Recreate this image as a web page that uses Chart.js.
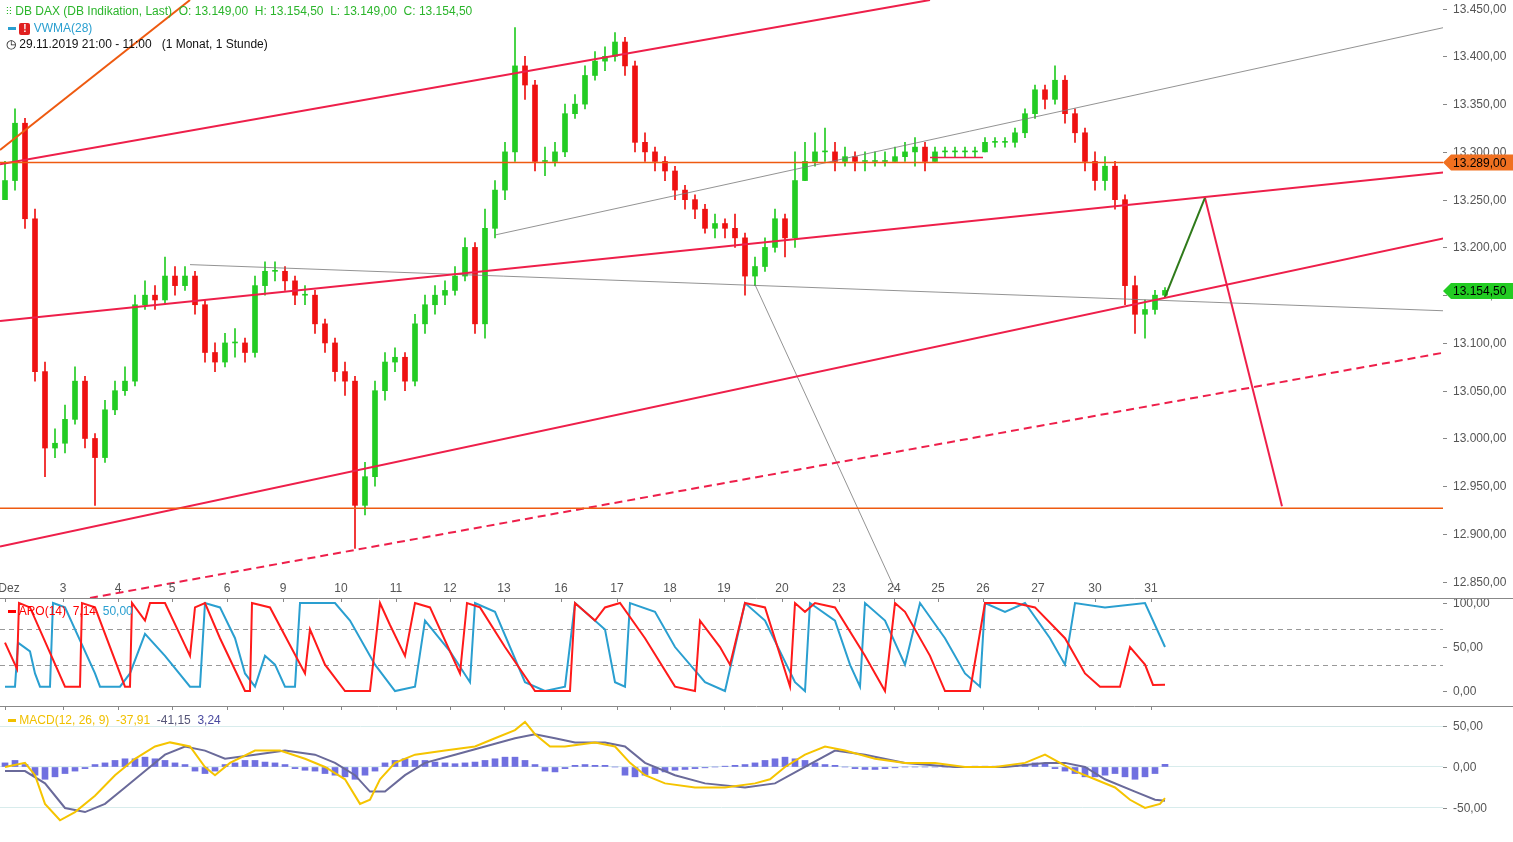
<!DOCTYPE html>
<html><head><meta charset="utf-8">
<script src="https://cdn.jsdelivr.net/npm/chart.js@4.4.0/dist/chart.umd.min.js"></script>
<style>
body{margin:0;width:1513px;height:842px;overflow:hidden;background:#fff;font-family:"Liberation Sans",Arial,sans-serif;position:relative}
.p{position:absolute;left:0;width:1513px}
.lg{position:absolute;font-size:12px;white-space:nowrap}
</style></head><body>
<div class="p" style="top:0;height:598px"><canvas id="c1"></canvas></div>
<div class="p" style="top:598px;height:108px"><canvas id="c2"></canvas></div>
<div class="p" style="top:706px;height:136px"><canvas id="c3"></canvas></div>
<div class="lg" style="left:6px;top:4px;color:#2bb52b"><span style="font-size:11px">⫶⫶</span> DB DAX (DB Indikation, Last)&nbsp; O: 13.149,00&nbsp; H: 13.154,50&nbsp; L: 13.149,00&nbsp; C: 13.154,50</div>
<div class="lg" style="left:8px;top:21px;color:#2a9fd0"><span style="display:inline-block;width:8px;height:3px;background:#2a9fd0;vertical-align:middle"></span> <span style="display:inline-block;width:11px;height:12px;background:#e02020;color:#fff;border-radius:2px;text-align:center;font-size:10px;line-height:12px;font-weight:bold;vertical-align:middle">!</span> VWMA(28)</div>
<div class="lg" style="left:6px;top:37px;color:#111">◷ 29.11.2019 21:00 - 11:00&nbsp;&nbsp; (1 Monat, 1 Stunde)</div>
<div class="lg" style="left:8px;top:604px;color:#f00"><span style="display:inline-block;width:8px;height:3px;background:#f00;vertical-align:middle"></span> ARO(14)&nbsp; 7,14&nbsp; <span style="color:#2a9fd0">50,00</span></div>
<div class="lg" style="left:8px;top:713px;color:#f0c000"><span style="display:inline-block;width:8px;height:3px;background:#f0c000;vertical-align:middle"></span> MACD(12, 26, 9)&nbsp; -37,91&nbsp; <span style="color:#555577">-41,15</span>&nbsp; <span style="color:#4a4aa0">3,24</span></div>
<script>
const closes=[13270,13330,13230,13070,12990,12995,13020,13060,13000,12980,
13030,13050,13060,13140,13150,13145,13170,13160,13170,13140,
13090,13080,13100,13100,13090,13160,13175,13175,13165,13150,
13150,13120,13100,13070,13060,12930,12960,13050,13080,13085,
13060,13120,13140,13150,13155,13170,13200,13120,13220,13260,
13300,13390,13370,13290,13290,13300,13340,13350,13380,13395,
13400,13415,13390,13310,13300,13290,13280,13260,13250,13240,
13220,13225,13220,13210,13170,13180,13200,13230,13210,13270,
13290,13300,13300,13290,13295,13290,13290,13290,13290,13295,
13300,13305,13290,13300,13300,13300,13300,13300,13310,13310,
13310,13320,13340,13365,13355,13375,13340,13320,13290,13270,
13285,13250,13160,13130,13135,13150,13155];
const firstOpen=13250;
const highs=[13290,13345,13335,13240,13080,13010,13035,13075,13065,13005,
13040,13060,13075,13150,13165,13160,13190,13180,13180,13175,
13145,13100,13110,13115,13105,13170,13185,13185,13180,13170,
13160,13155,13125,13105,13080,13065,12975,13060,13090,13095,
13090,13130,13150,13160,13165,13180,13210,13205,13240,13270,
13310,13430,13400,13375,13305,13310,13350,13360,13390,13405,
13410,13425,13420,13395,13320,13305,13295,13285,13265,13255,
13245,13235,13230,13235,13215,13190,13210,13240,13235,13300,
13310,13320,13325,13310,13305,13300,13300,13300,13300,13305,
13310,13315,13310,13305,13305,13305,13305,13305,13315,13315,
13315,13325,13345,13370,13370,13390,13380,13345,13325,13300,
13295,13290,13255,13170,13145,13155,13158];
const lows=[13250,13260,13220,13060,12960,12980,12985,13015,12990,12930,
12975,13025,13045,13055,13135,13135,13140,13150,13155,13130,
13080,13070,13075,13085,13080,13085,13150,13165,13155,13140,
13140,13110,13090,13060,13045,12885,12920,12950,13040,13070,
13050,13055,13110,13130,13140,13150,13165,13110,13105,13210,
13250,13290,13355,13280,13275,13285,13295,13335,13345,13375,
13385,13395,13380,13300,13290,13280,13270,13250,13240,13230,
13215,13210,13210,13200,13150,13160,13175,13195,13190,13200,
13270,13285,13290,13280,13285,13280,13280,13285,13285,13290,
13290,13285,13280,13290,13295,13295,13295,13295,13300,13305,
13305,13305,13315,13335,13345,13350,13330,13310,13280,13260,
13260,13240,13140,13110,13105,13130,13148];
const dayTicks=[0,5.8,11.3,16.7,22.2,27.8,33.6,39.1,44.5,49.9,55.6,61.2,66.5,71.9,77.7,83.4,88.9,93.3,97.8,103.3,109,114.6];
const dayLabels=["Dez","3","4","5","6","9","10","11","12","13","16","17","18","19","20","23","24","25","26","27","30","31"];
const priceTicks=[12850,12900,12950,13000,13050,13100,13150,13200,13250,13300,13350,13400,13450];
const redLines=[[-0.5,13287,92.5,13459],[-0.5,13123,144.3,13279],[-0.5,12887,150.8,13225]];
const orangeDiag=[-0.5,13302,18.5,13459];
const dashedLine=[8.5,12833,150.8,13103];
const grayLines=[[49,13213,150.8,13446],[18.5,13182,150.8,13131],[75,13161,89,12842]];
const greenLine=[116,13148,120,13252];
const crimsonLine=[120,13252,127.7,12929];
const redShort=[92.5,13294,97.8,13294];
const hLevels=[13289,12927];
const lastPrice=13154.5;
const aroonUp=[[0,55],[1.2,25],[1.4,100],[2.5,95],[6,5],[7.5,5],[7.7,100],[9,95],[12,5],[12.5,5],[12.7,100],[14,80],[14.5,100],[16,100],[18.5,40],[19,95],[20,100],[21.5,60],[24,0],[24.5,0],[24.7,100],[26.5,95],[30,20],[30.5,70],[32,30],[34,0],[36.5,0],[37.5,100],[38.5,75],[40,40],[41,100],[42.5,95],[45.5,20],[46.2,100],[47.5,95],[50,50],[53,0],[56.5,0],[57,100],[59,80],[60,95],[61.5,100],[64,60],[67,5],[69,0],[69.5,80],[71.5,50],[72.5,30],[74,100],[76,95],[78.5,5],[79,100],[80,90],[81,100],[83,95],[86,40],[88,0],[89,100],[90,90],[92.5,40],[94,0],[96.5,0],[98,100],[101,100],[103,95],[106,60],[108,20],[109.5,5],[111.5,5],[112.5,50],[114,30],[114.8,7],[116,7.14]];
const aroonDown=[[0,5],[1,5],[1.3,55],[2.5,45],[3,20],[3.5,5],[4.5,5],[4.8,100],[6,95],[9,20],[9.5,5],[11.5,5],[12.5,20],[14,65],[16,40],[18.5,5],[19.5,5],[20,100],[21.5,95],[23,60],[24,20],[25,5],[26,40],[27,30],[28,5],[29,5],[29.5,100],[33,100],[34.5,80],[37,30],[39,0],[41,5],[42,80],[44.5,45],[46.5,10],[47,100],[49,90],[52,10],[54,0],[56,5],[57,100],[60,70],[61,10],[62,5],[62.5,100],[65,90],[67,50],[70,10],[72,0],[74,100],[76,80],[79,10],[80,0],[80.5,100],[83,80],[84.5,30],[85.5,5],[86,100],[88,80],[90,30],[91.5,100],[94,60],[96,20],[97.5,5],[98,100],[100,90],[102,100],[104.5,60],[106,30],[107,100],[110,95],[114,100],[116,50]];
const macdLine=[[0,0],[2,5],[3,-10],[4,-45],[5.5,-65],[7,-55],[9,-35],[11,-10],[13,10],[15,25],[16.5,30],[18.5,25],[20,0],[21,-10],[22.5,5],[25,20],[27.5,20],[30,10],[32,0],[34,-15],[35.5,-45],[36.5,-40],[37.5,-15],[39,5],[41,15],[44,20],[47,25],[49,35],[51,45],[52,55],[53,40],[54.5,25],[56,25],[59,30],[61,25],[62.5,5],[64,-10],[66,-20],[69,-25],[72,-25],[75,-20],[76.5,-15],[78,0],[80,15],[82,25],[84,20],[87,10],[90,5],[93,5],[96,0],[99,0],[102,5],[104,15],[105.5,5],[107,-5],[109,-15],[111,-25],[112.5,-40],[114,-50],[115.5,-45],[116,-37.91]];
const signalLine=[[0,-5],[2,-5],[4,-20],[6,-50],[8,-55],[10,-45],[12,-25],[14,-5],[16,15],[18,25],[20,20],[22,10],[25,15],[28,20],[31,15],[33,5],[35,-10],[36.5,-30],[38,-30],[40,-10],[42,5],[45,15],[48,25],[51,35],[53,40],[55,35],[57,30],[60,30],[62,25],[64,5],[67,-10],[70,-20],[74,-25],[77,-20],[80,0],[83,20],[86,15],[90,5],[95,0],[100,0],[104,5],[106,5],[108,0],[110,-15],[113,-30],[115,-40],[116,-41.15]];
const macdHist=[5,8,3,-10,-15,-12,-8,-5,-2,3,5,8,10,10,12,10,8,5,3,-5,-8,-5,3,5,8,8,6,5,3,-2,-4,-5,-8,-10,-12,-15,-10,-5,5,8,10,8,8,6,5,4,5,6,8,10,12,12,8,3,-5,-6,-2,2,3,2,2,0,-10,-12,-10,-8,-6,-4,-3,-2,-1,0,1,2,3,5,8,10,12,10,8,5,3,2,0,-2,-3,-3,-2,-1,0,0,0,0,0,0,0,1,1,1,1,2,3,5,4,-2,-5,-8,-12,-12,-10,-8,-12,-15,-12,-8,3.24];

const XMIN=-0.5,XMAX=143.8;
const de=v=>v.toLocaleString('de-DE',{minimumFractionDigits:2,maximumFractionDigits:2});
const seg=(a,color,w,dash)=>({type:'line',data:[{x:a[0],y:a[1]},{x:a[2],y:a[3]}],borderColor:color,borderWidth:w,borderDash:dash||[],pointRadius:0,order:0});
const opens=closes.map((c,i)=>i?closes[i-1]:firstOpen);
const col=closes.map((c,i)=>c>=opens[i]?'#22cc22':'#ee1111');
const yAxis=(min,max,ticks,grid)=>({position:'right',min,max,afterBuildTicks:s=>{s.ticks=ticks.map(v=>({value:v}))},afterFit:s=>{s.width=70},
 ticks:{display:false},grid:grid||{display:false},border:{display:false}});
const xAxis={type:'linear',min:XMIN,max:XMAX,display:false,offset:false};
const base={responsive:true,maintainAspectRatio:false,animation:false,layout:{padding:0},plugins:{legend:{display:false},tooltip:{enabled:false}}};
const yLabels={id:'yl',afterDraw(c){const ctx=c.ctx,ys=c.scales.y,a=c.chartArea;ctx.save();ctx.font='12px "Liberation Sans"';ctx.fillStyle='#555';ctx.strokeStyle='#888';ctx.textBaseline='middle';
 ys.ticks.forEach(t=>{const y=Math.round(ys.getPixelForValue(t.value))+0.5;ctx.beginPath();ctx.moveTo(a.right,y);ctx.lineTo(a.right+4,y);ctx.stroke();ctx.fillText(de(t.value),a.right+10,y);});ctx.restore();}};
const sepPlugin={id:'sep',afterDraw(c){const ctx=c.ctx,a=c.chartArea;ctx.save();ctx.strokeStyle='#888';ctx.lineWidth=1;
 ctx.beginPath();ctx.moveTo(0,a.top+0.5);ctx.lineTo(c.width,a.top+0.5);ctx.stroke();
 const xs=c.scales.x;dayTicks.forEach(t=>{const x=Math.round(xs.getPixelForValue(t))+0.5;ctx.beginPath();ctx.moveTo(x,a.top);ctx.lineTo(x,a.top+4);ctx.stroke();});ctx.restore();}};

new Chart(document.getElementById('c1'),{type:'bar',data:{datasets:[
 ...hLevels.map(v=>seg([XMIN,v,XMAX,v],'#ee5a10',1.5)),
 ...redLines.map(l=>seg(l,'#ee1f4a',2)),
 seg(orangeDiag,'#ee5a10',2),
 seg(dashedLine,'#ee1f4a',2,[8,5]),
 ...grayLines.map(l=>seg(l,'#777',0.8)),
 seg(greenLine,'#2f7a1a',2),
 seg(crimsonLine,'#ee1f4a',2),
 seg(redShort,'#ee1f4a',1.5),
 {type:'bar',data:closes.map((c,i)=>({x:i,y:[lows[i],highs[i]]})),backgroundColor:col,barThickness:1,grouped:false,order:2},
 {type:'bar',data:closes.map((c,i)=>({x:i,y:[Math.min(opens[i],c),Math.max(opens[i],c)+(opens[i]===c?1:0)]})),backgroundColor:col,barThickness:5,grouped:false,order:1}
]},options:{...base,scales:{x:xAxis,y:yAxis(12833,13459,priceTicks)}},
plugins:[yLabels,{id:'lab',afterDraw(c){const ctx=c.ctx,xs=c.scales.x,ys=c.scales.y;ctx.save();
 ctx.font='12px "Liberation Sans"';ctx.fillStyle='#555';ctx.textAlign='center';ctx.textBaseline='middle';
 dayTicks.forEach((t,i)=>ctx.fillText(dayLabels[i],Math.max(xs.getPixelForValue(t),9),589));
 const badge=(v,bg)=>{const y=ys.getPixelForValue(v),x0=1443;ctx.fillStyle=bg;ctx.beginPath();ctx.moveTo(x0,y);ctx.lineTo(x0+8,y-8);ctx.lineTo(1513,y-8);ctx.lineTo(1513,y+8);ctx.lineTo(x0+8,y+8);ctx.closePath();ctx.fill();
  ctx.fillStyle='#000';ctx.textAlign='left';ctx.fillText(de(v),1453,y+1);};
 badge(hLevels[0],'#f07020');badge(lastPrice,'#22cc22');ctx.restore();}}]});

new Chart(document.getElementById('c2'),{type:'line',data:{datasets:[
 {data:aroonUp.map(p=>({x:p[0],y:p[1]})),borderColor:'#ff1a1a',borderWidth:2,pointRadius:0},
 {data:aroonDown.map(p=>({x:p[0],y:p[1]})),borderColor:'#2a9fd0',borderWidth:2,pointRadius:0}
]},options:{...base,scales:{x:xAxis,y:yAxis(-17,105.7,[0,50,100])}},
plugins:[yLabels,sepPlugin,{id:'dl',beforeDatasetsDraw(c){const ctx=c.ctx,a=c.chartArea,ys=c.scales.y;ctx.save();ctx.strokeStyle='#999';ctx.setLineDash([5,4]);ctx.lineWidth=1;
 [70,30].forEach(v=>{const y=Math.round(ys.getPixelForValue(v))+0.5;ctx.beginPath();ctx.moveTo(a.left,y);ctx.lineTo(a.right,y);ctx.stroke();});ctx.restore();}}]});

new Chart(document.getElementById('c3'),{type:'bar',data:{datasets:[
 {type:'line',data:macdLine.map(p=>({x:p[0],y:p[1]})),borderColor:'#f5c400',borderWidth:2,pointRadius:0,order:0},
 {type:'line',data:signalLine.map(p=>({x:p[0],y:p[1]})),borderColor:'#6a6a9a',borderWidth:2,pointRadius:0,order:0},
 {type:'bar',data:macdHist.map((v,i)=>({x:i,y:v})),backgroundColor:'#7070e0',barThickness:6,order:1}
]},options:{...base,scales:{x:xAxis,y:yAxis(-91.5,74.4,[-50,0,50],{color:'#d8ecec',drawTicks:false})}},
plugins:[yLabels,sepPlugin]});
</script></body></html>
